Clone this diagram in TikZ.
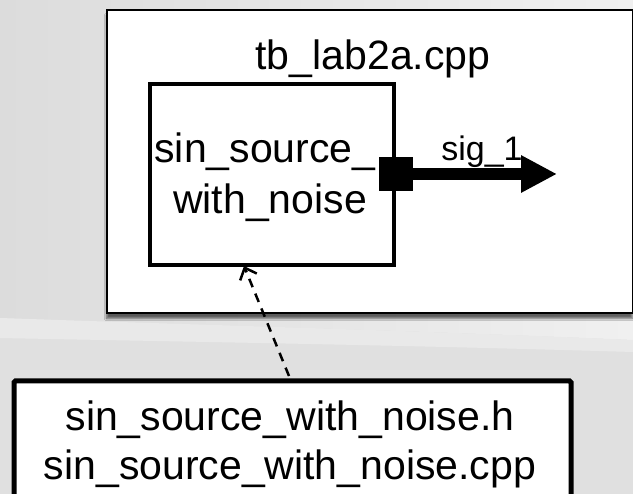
\documentclass[tikz,border=0pt]{standalone}
\usepackage{fontspec}
\setmainfont{Liberation Sans}
\usetikzlibrary{arrows.meta,shadows.blur}
\definecolor{bglow}{HTML}{E0E0E0}
\definecolor{bgband}{HTML}{ECECEC}
\definecolor{bgleft}{HTML}{DCDCDC}
\definecolor{bgright}{HTML}{F0F0F0}
\tikzset{
  outerbox/.style={draw=black, line width=2pt, fill=white,
    blur shadow={shadow xshift=0pt, shadow yshift=-5pt, shadow blur steps=8, shadow opacity=60}},
  modbox/.style={draw=black, line width=4pt, fill=white},
  filebox/.style={draw=black, line width=5pt, fill=white, rounded corners=1.5pt},
  bigtext/.style={font=\fontsize{41}{50}\selectfont, inner sep=0pt, anchor=base},
  smalltext/.style={font=\fontsize{34}{40}\selectfont, inner sep=0pt, anchor=base},
  dep/.style={line width=2.5pt, dash pattern=on 9pt off 7pt, -{Straight Barb[length=10pt,width=18pt,line width=2.5pt]}},
  sigarrow/.style={line width=12pt, -{Triangle[length=36pt,width=35pt]}}
}
\begin{document}
\begin{tikzpicture}[x=1pt,y=-1pt]
\useasboundingbox (0,0) rectangle (633,494);
% background
\fill[bglow] (0,0) rectangle (633,494);
\shade[left color=bgleft, right color=bgright] (0,0) -- (633,0) -- (633,340) .. controls (400,330) and (200,325) .. (0,318) -- cycle;
\fill[bgband, opacity=0.8] (0,318) .. controls (200,325) and (400,330) .. (633,340) -- (633,352) .. controls (400,345) and (200,342) .. (0,338) -- cycle;
% outer box
\node[outerbox, minimum width=526pt, minimum height=303pt, anchor=north west, inner sep=0pt] (tb) at (105.5,9.5) {};
\node[bigtext] (tblabel) at (373,70) {tb\_lab2a.cpp};
% module box
\node[modbox, minimum width=244pt, minimum height=181pt, anchor=north west, inner sep=0pt] (src) at (148,82) {};
\node[bigtext] (srcl1) at (265,163) {sin\_source\_};
\node[bigtext] (srcl2) at (270,214) {with\_noise};
% port and signal
\node[fill=black, minimum size=34pt, inner sep=0pt] (port) at (src.east |- 0,174) {};
\coordinate (sigend) at (557,174);
\draw[sigarrow] (port.east) -- (sigend);
\node[smalltext] (siglabel) at (482,161) {sig\_1};
% file box
\node[filebox, minimum width=557pt, minimum height=150pt, anchor=north west, inner sep=0pt] (files) at (11.5,378.5) {};
\node[bigtext] (f1) at (290,431) {sin\_source\_with\_noise.h};
\node[bigtext] (f2) at (290,480) {sin\_source\_with\_noise.cpp};
% dependency
\coordinate (depstart) at (289,376);
\coordinate (depend) at (244,266);
\draw[dep] (depstart) -- (depend);
\end{tikzpicture}
\end{document}
